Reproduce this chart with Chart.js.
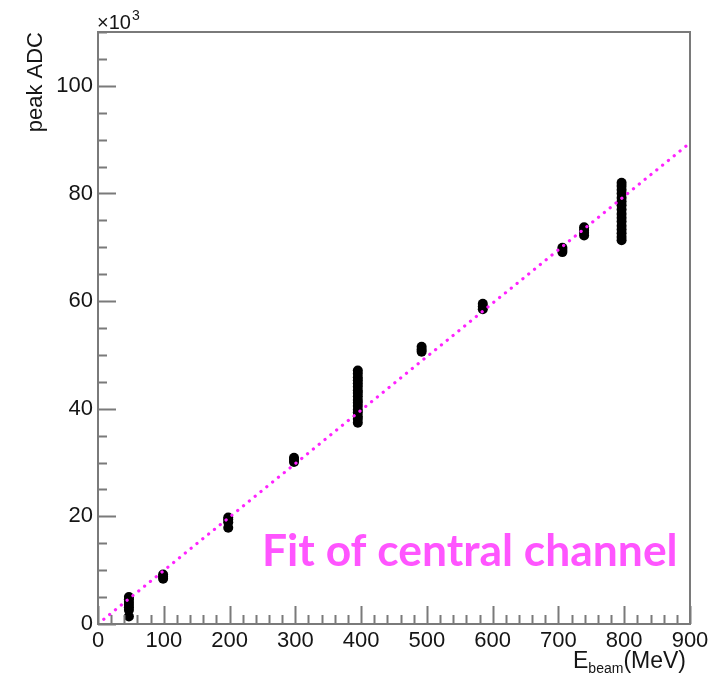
<!DOCTYPE html>
<html><head><meta charset="utf-8">
<script src="https://cdn.jsdelivr.net/npm/chart.js@4/dist/chart.umd.min.js"></script>
<style>html,body{margin:0;padding:0;background:#fff;}#wrap{width:715px;height:679px;}</style>
</head><body><div id="wrap"><canvas id="c" width="715" height="679"></canvas></div>
<script>
// ---- data (peak ADC in units of 10^3, beam energy in MeV) ----
const xTicks = [0,100,200,300,400,500,600,700,800,900];
const yTicks = [0,20,40,60,80,100];
const beamEnergies = [47, 99, 198, 298, 395, 492, 585, 706, 739, 796];
const peak47  = [1.4, 2.6, 3.1, 3.6, 4.1, 4.6, 5.0];
const peak99  = [8.4, 8.8, 9.2];
const peak198 = [17.9, 18.9, 19.4, 19.8];
const peak298 = [30.1, 30.5, 30.9];
const peak395 = [37.4, 38.1, 38.6, 39.3, 39.8, 40.5, 41.1, 41.6, 42.3, 42.9, 43.4, 44.1, 44.7, 45.3, 45.8, 46.5, 47.1];
const peak492 = [50.6, 51.0, 51.5];
const peak585 = [58.5, 59.0, 59.5];
const peak706 = [69.1, 69.5, 69.9];
const peak739 = [72.2, 72.7, 73.2, 73.7];
const peak796 = [71.3, 71.9, 72.6, 73.3, 74.0, 74.8, 75.5, 76.2, 77.0, 77.8, 78.5, 79.2, 80.0, 80.7, 81.4, 82.0];
const fitX = [0, 900];
const fitY = [0, 89.4];
const annotation = 'Fit of central channel';

const peakSets = [peak47, peak99, peak198, peak298, peak395, peak492, peak585, peak706, peak739, peak796];
const points = [];
beamEnergies.forEach((e, i) => peakSets[i].forEach(v => points.push({x: e, y: v})));
const fitPts = fitX.map((x, i) => ({x, y: fitY[i]}));

const AXIS = '#7a7a7a';
const TXT = '#151515';
const FONT = '"Liberation Sans", Arial, sans-serif';

const decor = {
  id: 'decor',
  afterDraw(chart) {
    const ctx = chart.ctx, a = chart.chartArea;
    const xs = chart.scales.x, ys = chart.scales.y;
    ctx.save();
    ctx.strokeStyle = AXIS;
    ctx.lineWidth = 2;
    ctx.strokeRect(a.left, a.top, a.right - a.left, a.bottom - a.top);
    ctx.beginPath();
    for (let v = xs.min; v <= xs.max; v += 20) {
      const px = Math.round(xs.getPixelForValue(v)) + 0.5;
      const len = xTicks.includes(v) ? 18 : 9;
      ctx.moveTo(px, a.bottom); ctx.lineTo(px, a.bottom - len);
    }
    for (let v = ys.min; v <= ys.max; v += 5) {
      const py = Math.round(ys.getPixelForValue(v)) + 0.5;
      const len = yTicks.includes(v) ? 18 : 9;
      ctx.moveTo(a.left, py); ctx.lineTo(a.left + len, py);
    }
    ctx.stroke();

    // x10^3
    ctx.fillStyle = TXT;
    ctx.textBaseline = 'alphabetic';
    ctx.textAlign = 'left';
    ctx.font = '20px ' + FONT;
    ctx.fillText('\u00d710', a.left - 1, 29);
    const w1 = ctx.measureText('\u00d710').width;
    ctx.font = '14px ' + FONT;
    ctx.fillText('3', a.left + w1, 20);

    // E_beam(MeV)
    const base = 668;
    ctx.font = '23px ' + FONT;
    const wE = ctx.measureText('E').width;
    const wM = ctx.measureText('(MeV)').width;
    ctx.font = '14px ' + FONT;
    const wB = ctx.measureText('beam').width;
    let x0 = a.right - 4 - (wE + wB + wM);
    ctx.font = '23px ' + FONT;
    ctx.fillText('E', x0, base);
    ctx.font = '14px ' + FONT;
    ctx.fillText('beam', x0 + wE, base + 5);
    ctx.font = '23px ' + FONT;
    ctx.fillText('(MeV)', x0 + wE + wB, base);

    // annotation
    ctx.font = 'bold 40px Lato, "Open Sans", sans-serif';
    const w40 = ctx.measureText(annotation).width;
    const fs = 40 * 416 / w40;
    ctx.font = 'bold ' + fs.toFixed(1) + 'px Lato, "Open Sans", sans-serif';
    ctx.fillStyle = '#ff55ff';
    ctx.fillText(annotation, 262, 566);
    ctx.restore();
  }
};

new Chart(document.getElementById('c'), {
  type: 'scatter',
  data: {
    datasets: [
      {
        type: 'line', data: fitPts, borderColor: '#ff22ff', borderWidth: 3.2,
        borderDash: [0.1, 7.4], borderCapStyle: 'round', pointRadius: 0, fill: false, tension: 0
      },
      {
        data: points, backgroundColor: '#000', borderColor: '#000', pointRadius: 5, borderWidth: 0
      }
    ]
  },
  options: {
    responsive: false, animation: false, devicePixelRatio: 1,
    layout: {padding: {left: 0, right: 25, top: 32, bottom: 0}},
    plugins: {legend: {display: false}, tooltip: {enabled: false}},
    scales: {
      x: {
        type: 'linear', min: 0, max: 900,
        afterBuildTicks: s => { s.ticks = xTicks.map(v => ({value: v})); },
        afterFit: s => { s.height = 55; },
        grid: {display: false, drawTicks: false}, border: {display: false},
        ticks: {font: {size: 22, family: FONT}, color: TXT, padding: 4, maxRotation: 0, autoSkip: false}
      },
      y: {
        type: 'linear', min: 0, max: 110,
        afterBuildTicks: s => { s.ticks = yTicks.map(v => ({value: v})); },
        afterFit: s => { s.width = 98; },
        grid: {display: false, drawTicks: false}, border: {display: false},
        ticks: {font: {size: 22, family: FONT}, color: TXT, padding: 5, autoSkip: false},
        title: {display: true, text: 'peak ADC', align: 'end', font: {size: 22, family: FONT}, color: TXT, padding: {top: 23, bottom: 0}}
      }
    }
  },
  plugins: [decor]
});
</script></body></html>
